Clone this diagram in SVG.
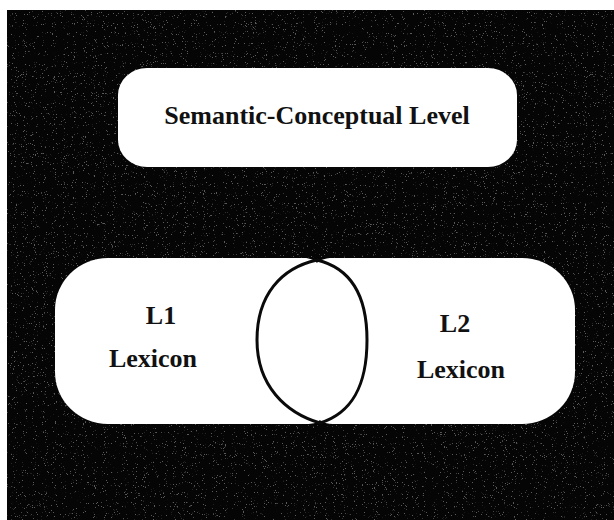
<svg xmlns="http://www.w3.org/2000/svg" width="614" height="520" viewBox="0 0 614 520">
  <defs>
    <style>
      .lbl { font-family: "Liberation Serif", "Times New Roman", serif; font-weight: bold; font-size: 26px; fill: #111; text-anchor: middle; }
      .shape { fill: #ffffff; stroke: none; }
      .lens { fill: none; stroke: #0a0a0a; stroke-width: 3; }
    </style>
    <filter id="speckle" x="0" y="0" width="100%" height="100%" color-interpolation-filters="sRGB">
      <feTurbulence type="fractalNoise" baseFrequency="0.9" numOctaves="2" seed="7" result="t"/>
      <feColorMatrix in="t" type="matrix" values="0 0 0 0 0.5  0 0 0 0 0.5  0 0 0 0 0.5  14 0 0 0 -9.4"/>
    </filter>
  </defs>

  <rect x="0" y="0" width="614" height="520" fill="#ffffff"/>
  <g id="background">
    <rect x="7" y="10" width="607" height="510" fill="#050505"/>
    <rect x="7" y="10" width="607" height="510" fill="#000" filter="url(#speckle)" opacity="0.7"/>
  </g>

  <g id="semantic-level">
    <rect class="shape" x="118" y="68" width="399" height="99" rx="29" ry="27"/>
    <text class="lbl" x="317" y="124">Semantic-Conceptual Level</text>
  </g>

  <g id="lexicons">
    <rect class="shape" x="55" y="258" width="520" height="166" rx="53" ry="52"/>
    <path d="M300,257.5 Q314,258 317,263 Q320,258 338,257.5 Z" fill="#050505"/>
    <path d="M302,424.5 Q317,424 320,420 Q323,424 340,424.5 Z" fill="#050505"/>
  </g>

  <g id="l1-lexicon">
    <text class="lbl" x="161" y="324">L1</text>
    <text class="lbl" x="153" y="367">Lexicon</text>
  </g>

  <g id="l2-lexicon">
    <text class="lbl" x="455" y="332">L2</text>
    <text class="lbl" x="461" y="378">Lexicon</text>
  </g>

  <g id="connectors">
    <path id="overlap" class="lens" d="M317,260 C281,268 257,295 257,340 C257,386 286,413 320,423 C352,413 367,386 367,340 C367,295 350,268 317,260 Z"/>
  </g>
</svg>
